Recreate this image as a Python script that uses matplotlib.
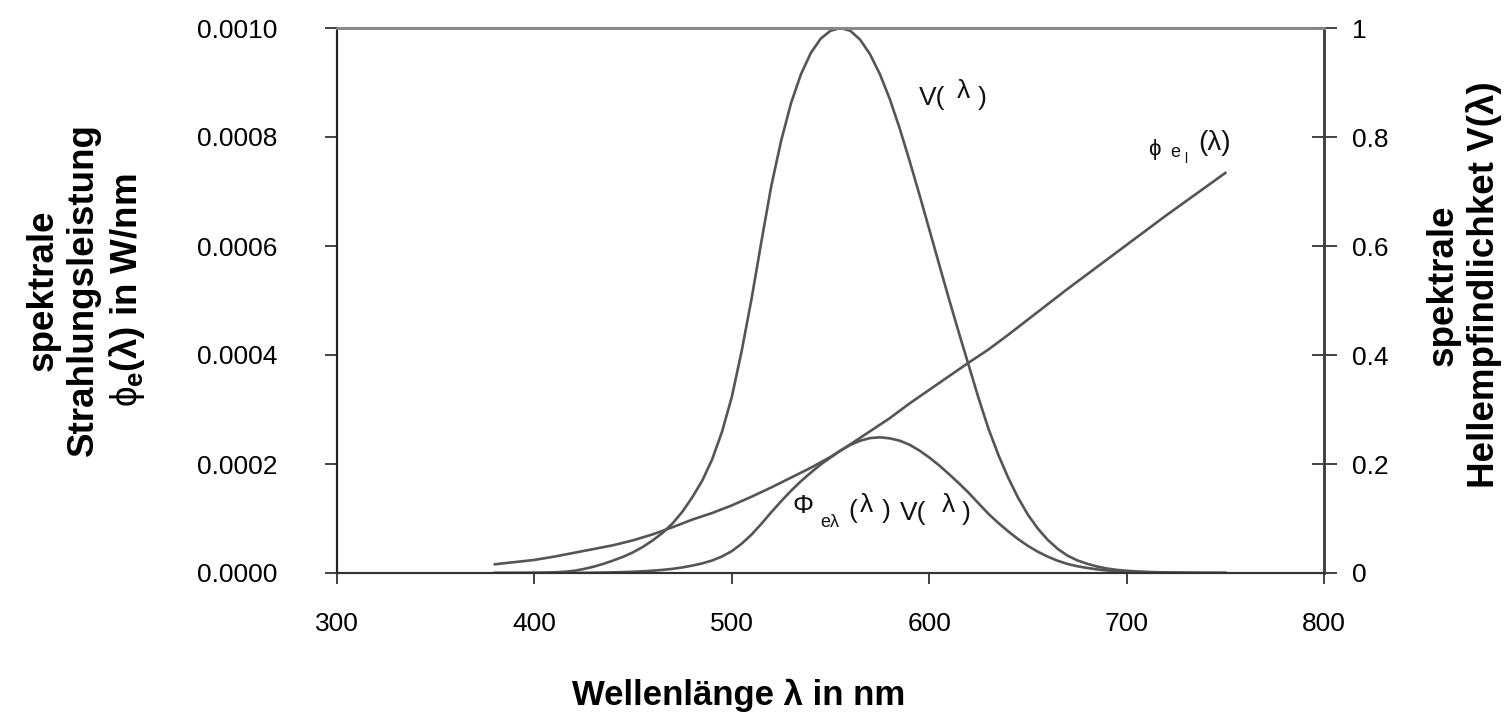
import matplotlib
matplotlib.use('Agg')
import matplotlib.pyplot as plt
from matplotlib.ticker import FixedLocator, FuncFormatter

plt.rcParams['font.family'] = ['Liberation Sans', 'DejaVu Sans']
plt.rcParams['mathtext.fontset'] = 'custom'
plt.rcParams['mathtext.rm'] = 'Liberation Sans'
plt.rcParams['mathtext.it'] = 'Liberation Sans'
plt.rcParams['mathtext.bf'] = 'Liberation Sans:bold'

# Wellenlängen in nm (5 nm Schritte)
wellenlaenge = list(range(380, 751, 5))

# spektrale Strahlungsleistung phi_e in 1e-6 W/nm (linke Achse)
phi_e = [16, 18, 20, 22, 24, 27, 30, 33.5, 37, 40.5, 44, 47.5, 51, 55.5,
         60, 65.5, 71, 77.5, 84, 91, 98, 104, 110, 117, 124, 132, 140,
         148.5, 157, 166, 175, 184, 193, 203, 213, 224.5, 236, 248, 260,
         272, 284, 297.5, 311, 323.5, 336, 348.5, 361, 373.5, 386, 398,
         410, 423.5, 437, 451, 465, 479, 493, 507, 521, 534.5, 548, 561.5,
         575, 588.5, 602, 615.5, 629, 642.5, 656, 669, 682, 695, 708, 721,
         734]

# Hellempfindlichkeit V (rechte Achse)
v_lambda = [0.000039, 0.000064, 0.00012, 0.000217, 0.000396, 0.00064,
            0.00121, 0.00218, 0.004, 0.0073, 0.0116, 0.01684, 0.023, 0.0298,
            0.038, 0.048, 0.060, 0.0739, 0.09098, 0.1126, 0.13902, 0.1693,
            0.20802, 0.2586, 0.323, 0.4073, 0.503, 0.6082, 0.710, 0.7932,
            0.862, 0.9149, 0.954, 0.9803, 0.99495, 1.0, 0.995, 0.9786,
            0.952, 0.9154, 0.870, 0.8163, 0.757, 0.6949, 0.631, 0.5668,
            0.503, 0.4412, 0.381, 0.321, 0.265, 0.217, 0.175, 0.1382, 0.107,
            0.0816, 0.061, 0.04458, 0.032, 0.0232, 0.017, 0.01192, 0.00821,
            0.005723, 0.004102, 0.002929, 0.002091, 0.001484, 0.001047,
            0.00074, 0.00052, 0.000361, 0.000249, 0.000172, 0.00012]

# bewertete Leistung Phi_e * V in 1e-6 W/nm (linke Achse)
phi_v = [0.0, 0.0, 0.002, 0.005, 0.01, 0.017, 0.036, 0.073, 0.148, 0.296,
         0.51, 0.8, 1.17, 1.65, 2.28, 3.14, 4.26, 5.73, 7.64, 10.25, 13.62,
         17.61, 22.88, 30.26, 40.05, 53.76, 70.42, 90.3, 111.47, 131.67,
         150.85, 168.34, 184.12, 199.0, 211.92, 224.5, 234.82, 242.69,
         247.52, 248.99, 247.08, 242.85, 235.43, 224.8, 212.02, 197.53,
         181.58, 164.79, 147.07, 127.76, 108.65, 91.9, 76.48, 62.33, 49.76,
         39.09, 30.07, 22.6, 16.67, 12.4, 9.32, 6.69, 4.72, 3.37, 2.47,
         1.8, 1.32, 0.95, 0.69, 0.5, 0.35, 0.25, 0.18, 0.12, 0.09]

linie = '#555555'
B, H = 1510, 717

fig = plt.figure(figsize=(15.1, 7.17), dpi=100)
ax = fig.add_axes([337 / B, 1 - 573 / H, (1324 - 337) / B, (573 - 28) / H])
ax2 = ax.twinx()

ax.plot(wellenlaenge, [p * 1e-6 for p in phi_e], color=linie, lw=1.9)
ax.plot(wellenlaenge, [p * 1e-6 for p in phi_v], color=linie, lw=1.9)
ax2.plot(wellenlaenge, v_lambda, color=linie, lw=1.9)

ax.set_xlim(300, 800)
ax.set_ylim(0, 0.001)
ax2.set_ylim(0, 1)

ax.xaxis.set_major_locator(FixedLocator([300, 400, 500, 600, 700, 800]))
ax.yaxis.set_major_locator(FixedLocator([0, 0.0002, 0.0004, 0.0006, 0.0008, 0.001]))
ax.yaxis.set_major_formatter(FuncFormatter(lambda v, p: '%.4f' % v))
ax2.yaxis.set_major_locator(FixedLocator([0, 0.2, 0.4, 0.6, 0.8, 1.0]))
ax2.yaxis.set_major_formatter(FuncFormatter(lambda v, p: '%g' % v))

ax.tick_params(axis='y', direction='out', length=9, width=1.2, pad=34,
               labelsize=19, color='#222222')
ax.tick_params(axis='x', direction='out', length=8, width=1.2, pad=20,
               labelsize=19, color='#222222')
ax2.tick_params(axis='y', direction='inout', length=18, width=1.2, pad=11,
                labelsize=19, color='#222222')

for a in (ax, ax2):
    a.spines['top'].set_color('#888888')
    a.spines['top'].set_linewidth(2)
    a.spines['left'].set_color('#222222')
    a.spines['left'].set_linewidth(1.5)
    a.spines['right'].set_color('#444444')
    a.spines['right'].set_linewidth(2)
    a.spines['bottom'].set_color('#333333')
    a.spines['bottom'].set_linewidth(1.5)


def etikett(px, py, s, groesse):
    # Beschriftung in Pixelkoordinaten (Grundlinie)
    fig.text(px / B, 1 - py / H, s, fontsize=groesse, va='baseline',
             color='#111111')


# Kurvenbeschriftungen
for s, px, py, g in [('V(', 919, 105, 19), ('λ', 957, 98, 19), (')', 978, 105, 19),
                     ('ϕ', 1148, 155, 16), ('e', 1170, 157, 13), ('l', 1184, 163, 10),
                     ('(λ)', 1198, 150, 20),
                     ('Φ', 793, 513, 19), ('eλ', 820, 527, 13), ('(', 848, 518, 19),
                     ('λ', 860, 512, 19), (')', 882, 518, 19), ('V(', 900, 520, 19),
                     ('λ', 942, 512, 19), (')', 962, 520, 19)]:
    etikett(px, py, s, g)

# Achsentitel
fig.text(572 / B, 1 - 705 / H, 'Wellenlänge λ in nm', fontsize=25,
         fontweight='bold', ha='left', va='baseline')
fig.text(86 / B, 0.5955,
         'spektrale\nStrahlungsleistung\n$\\phi_{\\mathbf{e}}$(λ) in W/nm',
         fontsize=26.5, fontweight='bold', rotation=90, ha='center',
         va='center', multialignment='center', linespacing=1.2)
fig.text(1464 / B, 0.6025, 'spektrale\nHellempfindlichket V(λ)', fontsize=26.5,
         fontweight='bold', rotation=90, ha='center', va='center',
         multialignment='center', linespacing=1.2)

fig.savefig('out.png', dpi=100)
